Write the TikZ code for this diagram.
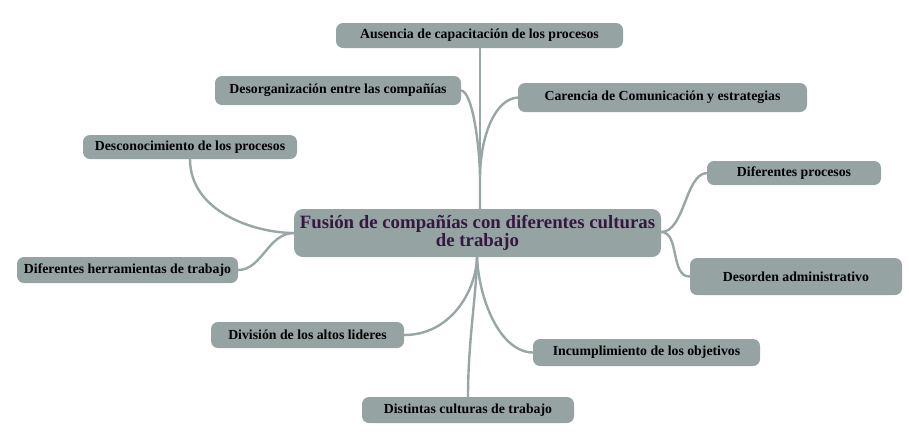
\documentclass[tikz,border=0pt]{standalone}
\usepackage{fontspec}
\setmainfont{Liberation Serif}
\usetikzlibrary{backgrounds}
\definecolor{boxfill}{HTML}{96A3A3}
\definecolor{linkc}{HTML}{98A6A6}
\definecolor{maintext}{HTML}{351840}
\tikzset{
  leaf/.style={fill=boxfill, rounded corners=7pt, inner sep=0pt, text=black,
    font=\fontsize{13.8}{15}\selectfont\bfseries, align=center},
  mainbox/.style={fill=boxfill, rounded corners=9pt, inner sep=0pt, text=maintext,
    font=\fontsize{18.8}{18}\selectfont\bfseries, align=center},
  link/.style={draw=linkc, line width=2.4pt, line cap=round}
}
\begin{document}
\begin{tikzpicture}[x=1pt,y=-1pt]
\useasboundingbox (0,0) rectangle (909,437);
\node[mainbox, minimum width=367pt, minimum height=48pt] (c) at (477.5,233) {Fusión de compañías con diferentes culturas\\de trabajo};
\node[leaf, minimum width=287pt, minimum height=25pt] (aus) at (479.5,35.5) {Ausencia de capacitación de los procesos};
\node[leaf, minimum width=246pt, minimum height=29pt] (desorg) at (338,90.5) {Desorganización entre las compañías};
\node[leaf, minimum width=289pt, minimum height=29pt] (car) at (662.5,97.5) {Carencia de Comunicación y estrategias};
\node[leaf, minimum width=214pt, minimum height=24pt] (desc) at (190,147) {Desconocimiento de los procesos};
\node[leaf, minimum width=174pt, minimum height=24pt] (difp) at (794,173) {Diferentes procesos};
\node[leaf, minimum width=221pt, minimum height=26pt] (herr) at (127.5,270) {Diferentes herramientas de trabajo};
\node[leaf, minimum width=212pt, minimum height=37pt] (dord) at (796,276.5) {Desorden administrativo};
\node[leaf, minimum width=193pt, minimum height=26pt] (div) at (307.5,335) {División de los altos lideres};
\node[leaf, minimum width=227pt, minimum height=27pt] (inc) at (646.5,352.5) {Incumplimiento de los objetivos};
\node[leaf, minimum width=212pt, minimum height=26pt] (dist) at (468,410) {Distintas culturas de trabajo};
\coordinate (jt) at (480,175);
\coordinate (jb) at (477,257);
\coordinate (jl) at (294,233);
\coordinate (jr) at (661,232);
\begin{scope}[on background layer]
\draw[link] (aus.south -| jt) -- (jt |- c.north);
\draw[link] (desorg.east) .. controls (472,92) and (479,140) .. (jt) -- (jt |- c.north);
\draw[link] (car.west) .. controls (495,99) and (481,135) .. (jt);
\draw[link] (desc.south) .. controls (190,212) and (255,233) .. (jl);
\draw[link] (herr.east) .. controls (262,270) and (268,233) .. (jl);
\draw[link] (difp.west) .. controls (685,174) and (685,232) .. (jr);
\draw[link] (dord.west) .. controls (670,277) and (680,232) .. (jr);
\draw[link] (div.east) .. controls (450,335) and (476,292) .. (jb);
\draw[link] (inc.west) .. controls (500,352) and (479,300) .. (jb);
\draw[link] (dist.north) .. controls (468,340) and (477,290) .. (jb);
\end{scope}
\end{tikzpicture}
\end{document}
